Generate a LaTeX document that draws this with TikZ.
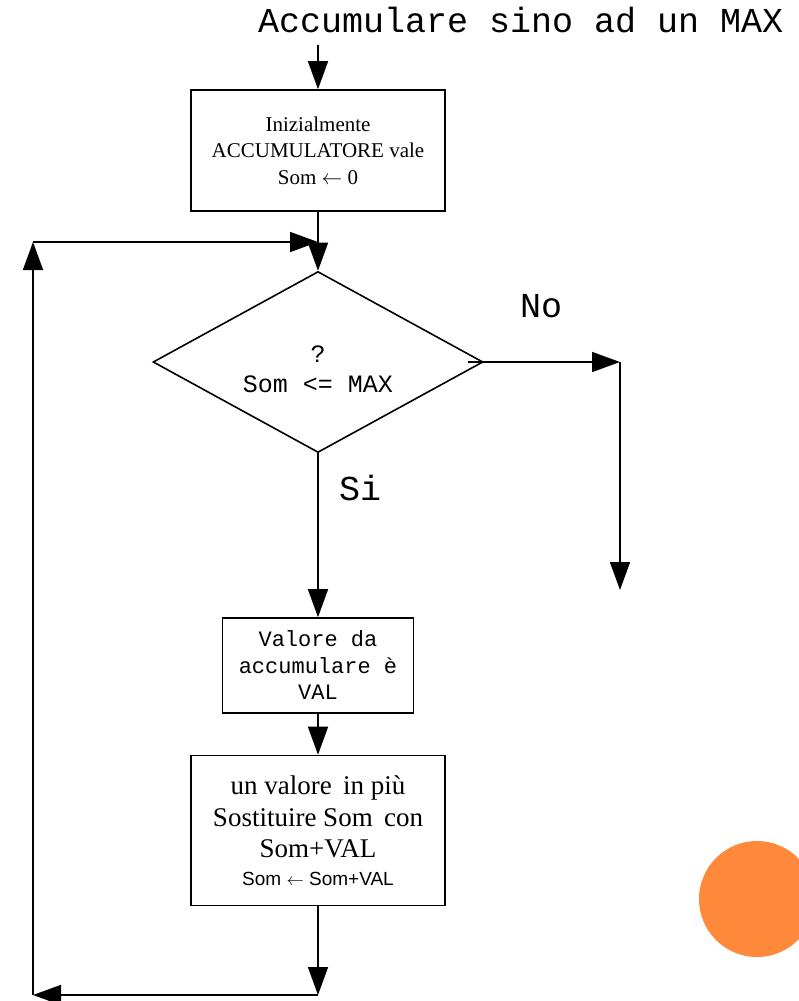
\documentclass[tikz,border=0pt]{standalone}
\usepackage{fontspec}
\setmainfont{Liberation Serif}
\setsansfont{Liberation Sans}
\setmonofont{Liberation Mono}
\usepackage{tikz}
\usetikzlibrary{arrows.meta,shapes.geometric}

\tikzset{
  blocco/.style={draw,line width=1.6pt,inner sep=0pt,align=center},
  freccia/.style={line width=1.6pt,-{Triangle[length=28pt,width=20pt]}},
  etichetta/.style={anchor=base west,inner sep=0pt,font=\fontsize{35}{40}\selectfont\ttfamily},
}

\begin{document}
\begin{tikzpicture}[x=1pt,y=1pt,yscale=-1]
\useasboundingbox (0,0) rectangle (798,1001);

% Text Node
\node (titolo) at (258,32) [etichetta] {Accumulare sino ad un MAX};
% Start
\coordinate (inizio) at (318,45);

% Block
\node (init) at (318,150.5) [blocco,minimum width=254pt,minimum height=121pt,font=\fontsize{21}{26.5}\selectfont]
  {Inizialmente\\ACCUMULATORE vale\\Som $\leftarrow$ 0};
% Decision
\node (test) at (318,362) [draw,line width=1.6pt,diamond,aspect=1.82,minimum width=330pt,minimum height=181pt,inner sep=0pt] {};
% Text Node
\node (testo) at (318,369) [align=center,inner sep=0pt,font=\fontsize{25}{30}\selectfont\ttfamily] {?\\Som <= MAX};
% Block
\node (val) at (318,665.5) [blocco,minimum width=191pt,minimum height=95pt,font=\fontsize{22}{26.5}\selectfont\ttfamily]
  {Valore da\\accumulare è\\VAL};
% Block
\node (somma) at (318,830.5) [blocco,minimum width=254pt,minimum height=150pt,font=\fontsize{27}{31.5}\selectfont]
  {un valore\, in più\\Sostituire Som\, con\\Som+VAL\\[-4pt]{\sffamily\fontsize{19}{22}\selectfont Som $\leftarrow$ Som+VAL}};

% Text Node
\node (no) at (520,317) [etichetta] {No};
% Text Node
\node (si) at (339,500) [etichetta] {Si};

% Corners
\coordinate (giunto) at (318,242);
\coordinate (altoSx) at (33,242);
\coordinate (bassoSx) at (33,995);
\coordinate (bassoC) at (318,995);
\coordinate (angoloNo) at (620,362);
\coordinate (fineNo) at (620,590);

% Connection
\draw [freccia] (inizio) -- (init.north);
% Connection
\draw [freccia] (init.south) -- (test.north);
% Connection
\draw [freccia] (altoSx) -- (giunto);
% Connection
\draw [freccia,shorten <=-16pt] (test.east) -- (angoloNo);
% Connection
\draw [freccia] (angoloNo) -- (fineNo);
% Connection
\draw [freccia] (test.south) -- (val.north);
% Connection
\draw [freccia] (val.south) -- (somma.north);
% Connection
\draw [freccia] (somma.south) -- (bassoC);
% Connection
\draw [freccia] (bassoC) -- (bassoSx);
% Connection
\draw [freccia] (bassoSx) -- (altoSx);

% Decoration
\fill [fill={rgb,255:red,255;green,137;blue,58}] (757,899) circle (58);

\end{tikzpicture}
\end{document}
